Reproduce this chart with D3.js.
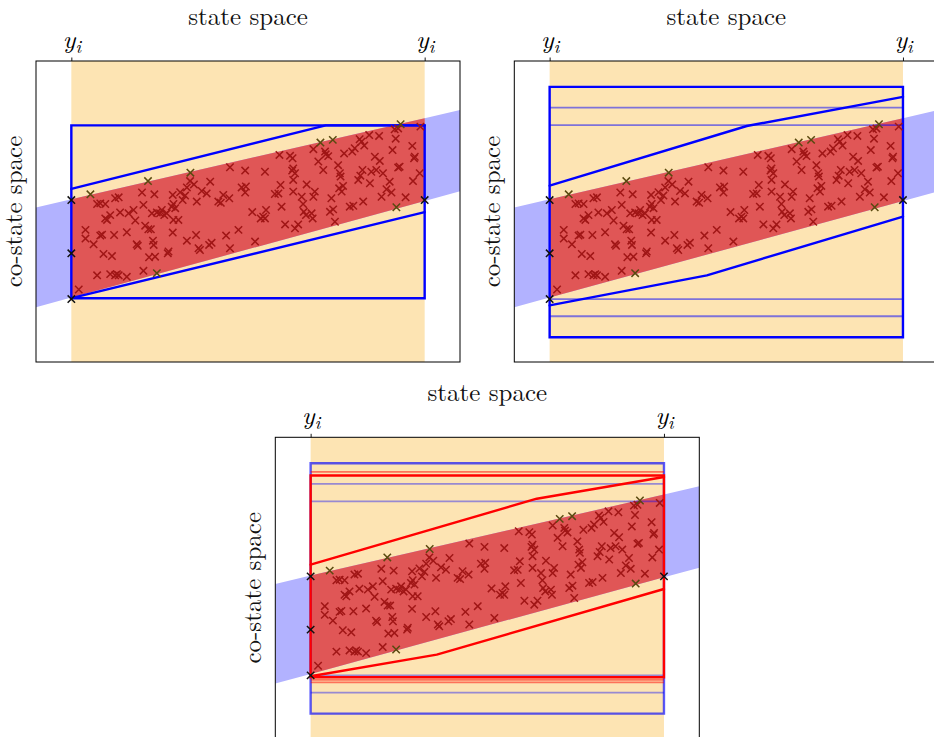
<!DOCTYPE html>
<html>
<head>
<meta charset="utf-8">
<script src="https://cdn.jsdelivr.net/npm/d3@7"></script>
<style>
  html, body { margin: 0; padding: 0; background: #fff; }
  svg { display: block; }
</style>
</head>
<body>
<svg id="chart" width="934" height="737"></svg>
<script>
// ---------------- data ----------------
const stateDomain = [-0.1, 1.1];
const costateDomain = [0, 1];
const stateTicks = [0, 1];
const stateTickBase = "y";
const stateTickSub = "i";
const titleText = "state space";
const yLabelText = "co-state space";

// admissible co-state band (edges of the wedge), sampled at these states
const bandX = [-0.1, 0, 1, 1.1];
const bandUpper = [0.513, 0.541, 0.810, 0.837];
const bandLower = [0.182, 0.214, 0.535, 0.567];

// sampled points (interior)
const sampleX = [0.021,0.040,0.040,0.063,0.073,0.082,0.096,0.073,0.082,0.087,0.091,0.115,0.096,0.101,0.110,0.110,0.124,0.134,0.129,0.121,0.124,0.134,0.138,0.157,0.157,0.162,0.176,0.181,0.185,0.188,0.200,0.204,0.204,0.209,0.218,0.225,0.220,0.237,0.228,0.235,0.231,0.233,0.242,0.251,0.256,0.263,0.270,0.273,0.275,0.284,0.289,0.287,0.294,0.289,0.303,0.287,0.308,0.315,0.322,0.327,0.336,0.327,0.347,0.353,0.355,0.369,0.383,0.360,0.364,0.390,0.397,0.393,0.416,0.423,0.430,0.438,0.447,0.449,0.449,0.473,0.482,0.494,0.492,0.492,0.512,0.520,0.536,0.543,0.548,0.551,0.548,0.576,0.586,0.595,0.589,0.592,0.605,0.619,0.626,0.625,0.628,0.633,0.628,0.628,0.633,0.642,0.652,0.656,0.658,0.666,0.664,0.680,0.683,0.685,0.689,0.685,0.699,0.713,0.718,0.720,0.727,0.732,0.741,0.736,0.746,0.755,0.760,0.762,0.758,0.765,0.769,0.772,0.788,0.798,0.795,0.802,0.812,0.818,0.824,0.826,0.816,0.821,0.829,0.843,0.845,0.849,0.859,0.873,0.871,0.882,0.878,0.892,0.901,0.906,0.909,0.918,0.915,0.925,0.925,0.929,0.946,0.965,0.970,0.972,0.967,0.986,0.988,0.863];
const sampleY = [0.241,0.439,0.410,0.391,0.525,0.527,0.525,0.288,0.420,0.423,0.359,0.352,0.477,0.472,0.488,0.292,0.288,0.288,0.292,0.422,0.544,0.547,0.497,0.283,0.431,0.494,0.505,0.470,0.391,0.386,0.563,0.522,0.303,0.453,0.441,0.441,0.348,0.350,0.494,0.557,0.403,0.389,0.497,0.494,0.505,0.488,0.494,0.361,0.367,0.516,0.525,0.555,0.511,0.472,0.472,0.430,0.564,0.538,0.553,0.580,0.601,0.403,0.590,0.422,0.533,0.568,0.560,0.378,0.372,0.389,0.396,0.599,0.533,0.529,0.555,0.420,0.544,0.647,0.378,0.439,0.580,0.583,0.563,0.636,0.498,0.400,0.477,0.483,0.477,0.505,0.632,0.558,0.560,0.516,0.688,0.588,0.457,0.685,0.677,0.636,0.643,0.627,0.605,0.566,0.444,0.457,0.549,0.525,0.499,0.590,0.488,0.494,0.477,0.549,0.566,0.707,0.666,0.638,0.699,0.690,0.684,0.499,0.507,0.544,0.466,0.654,0.627,0.616,0.577,0.566,0.585,0.693,0.516,0.519,0.699,0.710,0.605,0.619,0.638,0.533,0.740,0.732,0.719,0.754,0.594,0.632,0.682,0.668,0.751,0.627,0.549,0.574,0.599,0.563,0.704,0.742,0.773,0.776,0.646,0.649,0.547,0.718,0.677,0.682,0.601,0.627,0.782,0.638];
// sampled points lying on the band's edge
const edgeSampleX = [0.054,0.217,0.337,0.705,0.740,0.932,0.920,0.242];
const edgeSampleY = [0.557,0.601,0.629,0.729,0.738,0.790,0.514,0.295];
// sampled points at the interval ends
const endSampleX = [0, 0, 0, 1];
const endSampleY = [0.538, 0.361, 0.209, 0.538];

// panel 1 : box + enclosure
const p1BoxY = [0.212, 0.786];
const p1UpperX = [0, 0.720, 1];
const p1UpperY = [0.575, 0.786, 0.786];
const p1LowerX = [0, 1];
const p1LowerY = [0.212, 0.498];
// panel 2
const p2BoxY = [0.082, 0.914];
const p2LevelY = [0.152, 0.209, 0.787, 0.845];
const p2UpperX = [0, 0.558, 1];
const p2UpperY = [0.586, 0.784, 0.881];
const p2LowerX = [0, 0.445, 1];
const p2LowerY = [0.188, 0.288, 0.483];
// panel 3 (red refinement)
const p3BoxY = [0.203, 0.873];
const p3LevelY = [0.186, 0.194, 0.885];
const p3UpperX = [0, 0.640, 1];
const p3UpperY = [0.577, 0.796, 0.868];
const p3LowerX = [0, 0.357, 1];
const p3LowerY = [0.206, 0.278, 0.496];

// ---------------- drawing ----------------
const svg = d3.select("#chart");
const FW = 424, FH = 301;
const SERIF = "'Latin Modern Roman', 'CMU Serif', 'Liberation Serif', serif";

const panels = [
  {left: 36, top: 61, id: 1},
  {left: 514.3, top: 61, id: 2},
  {left: 275.3, top: 437.3, id: 3}
];

const pts = (xs, ys) => xs.map((v, i) => [v, ys[i]]);

panels.forEach(p => {
  const x = d3.scaleLinear().domain(stateDomain).range([p.left, p.left + FW]);
  const y = d3.scaleLinear().domain(costateDomain).range([p.top + FH, p.top]);
  const g = svg.append("g");
  const clipId = "clip" + p.id;
  svg.append("clipPath").attr("id", clipId)
    .append("rect").attr("x", p.left).attr("y", p.top).attr("width", FW).attr("height", FH);
  const inner = g.append("g").attr("clip-path", `url(#${clipId})`);

  // state interval
  inner.append("rect")
    .attr("x", x(stateTicks[0])).attr("y", p.top)
    .attr("width", x(stateTicks[1]) - x(stateTicks[0])).attr("height", FH)
    .attr("fill", "#fde4b3");

  const bandPts = bandX.map((v, i) => ({x: v, u: bandUpper[i], l: bandLower[i]}));
  const area = d3.area().x(d => x(d.x)).y0(d => y(d.l)).y1(d => y(d.u));
  inner.append("path").datum(bandPts).attr("d", area).attr("fill", "#b2b2ff");
  inner.append("path").datum(bandPts.filter(d => d.x >= 0 && d.x <= 1)).attr("d", area).attr("fill", "#e05656");

  const line = d3.line().x(d => x(d[0])).y(d => y(d[1]));
  const hline = (yy, color, width, op) => inner.append("path")
    .datum([[0, yy], [1, yy]]).attr("d", line)
    .attr("fill", "none").attr("stroke", color).attr("stroke-width", width).attr("stroke-opacity", op);
  const box = (ys, color, width, op) => inner.append("path")
    .datum([[0, ys[0]], [1, ys[0]], [1, ys[1]], [0, ys[1]]]).attr("d", d3.line().x(d => x(d[0])).y(d => y(d[1])).curve(d3.curveLinearClosed))
    .attr("fill", "none").attr("stroke", color).attr("stroke-width", width).attr("stroke-opacity", op)
    .attr("stroke-linejoin", "miter");
  const chain = (xs, ys, color, width) => inner.append("path")
    .datum(pts(xs, ys)).attr("d", line)
    .attr("fill", "none").attr("stroke", color).attr("stroke-width", width)
    .attr("stroke-linejoin", "round").attr("stroke-linecap", "round");

  if (p.id === 1) {
    box(p1BoxY, "#0000ff", 2.4, 1);
    chain(p1UpperX, p1UpperY, "#0000ff", 2.4);
    chain(p1LowerX, p1LowerY, "#0000ff", 2.4);
  } else if (p.id === 2) {
    p2LevelY.forEach(v => hline(v, "#0000ff", 1.8, 0.5));
    box(p2BoxY, "#0000ff", 2.4, 1);
    chain(p2UpperX, p2UpperY, "#0000ff", 2.4);
    chain(p2LowerX, p2LowerY, "#0000ff", 2.4);
  } else {
    p2LevelY.forEach(v => hline(v, "#0000ff", 1.8, 0.4));
    box(p2BoxY, "#0000ff", 2.4, 0.65);
    p3LevelY.forEach(v => hline(v, "#ff0000", 1.8, 0.5));
    box(p3BoxY, "#ff0000", 2.4, 1);
    chain(p3UpperX, p3UpperY, "#ff0000", 2.4);
    chain(p3LowerX, p3LowerY, "#ff0000", 2.4);
  }

  // markers
  const cross = "M-3.7,-3.7L3.7,3.7M-3.7,3.7L3.7,-3.7";
  const drawMarks = (xs, ys, color) => inner.append("g").selectAll("path")
    .data(pts(xs, ys)).join("path")
    .attr("transform", d => `translate(${x(d[0])},${y(d[1])})`)
    .attr("d", cross).attr("fill", "none").attr("stroke", color).attr("stroke-width", 1.5);
  drawMarks(sampleX, sampleY, "#a01616");
  drawMarks(edgeSampleX, edgeSampleY, "#5a4a10");
  drawMarks(endSampleX, endSampleY, "#111111");

  // frame
  g.append("rect").attr("x", p.left).attr("y", p.top).attr("width", FW).attr("height", FH)
    .attr("fill", "none").attr("stroke", "#000").attr("stroke-width", 1);

  // top axis
  const ax = g.append("g").attr("transform", `translate(0,${p.top})`)
    .call(d3.axisTop(x).tickValues(stateTicks).tickSize(3.5).tickSizeOuter(0).tickFormat(""));
  ax.select(".domain").remove();
  ax.selectAll(".tick line").attr("stroke", "#000").attr("stroke-width", 0.9);
  ax.selectAll(".tick").each(function() {
    const t = d3.select(this).append("text")
      .attr("y", -13).attr("x", 0).attr("fill", "#000")
      .attr("text-anchor", "middle")
      .style("font-family", SERIF).style("font-style", "italic").style("font-size", "26px");
    t.append("tspan").text(stateTickBase);
    t.append("tspan").attr("dy", 4.5).style("font-size", "18px").text(stateTickSub);
  });

  // title
  g.append("text").attr("x", p.left + FW / 2).attr("y", p.top - 36)
    .attr("text-anchor", "middle")
    .style("font-family", SERIF).style("font-size", "25px").attr("fill", "#111")
    .text(titleText);
  // y label
  g.append("text")
    .attr("transform", `translate(${p.left - 14},${p.top + FH / 2}) rotate(-90)`)
    .attr("text-anchor", "middle")
    .style("font-family", SERIF).style("font-size", "25px").attr("fill", "#111")
    .text(yLabelText);
});
</script>
</body>
</html>
